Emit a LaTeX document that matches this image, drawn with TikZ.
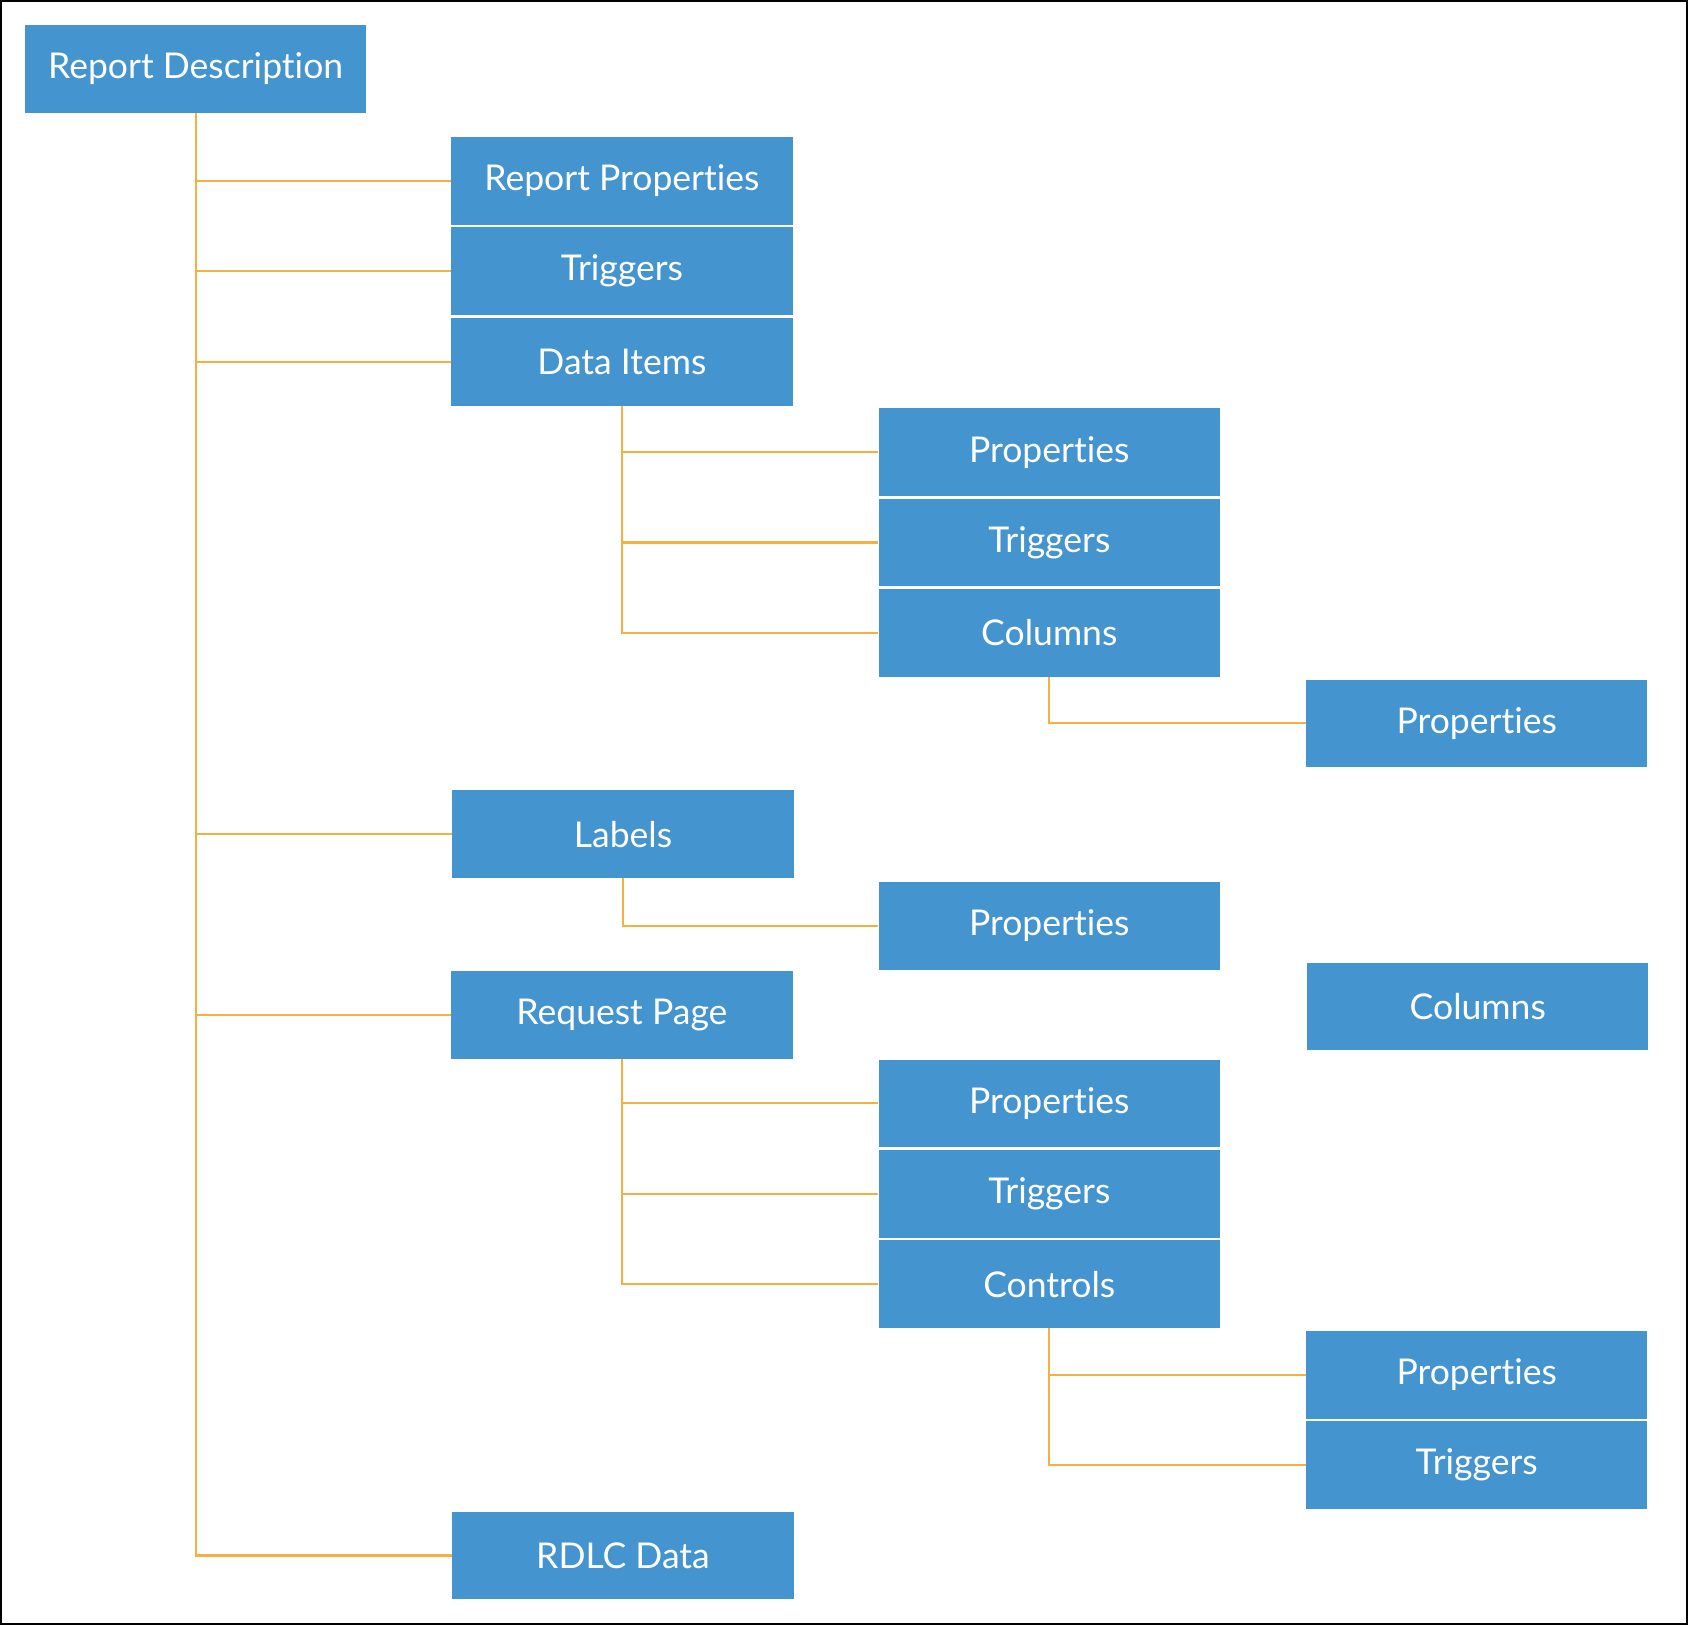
\documentclass[tikz,border=0pt]{standalone}
\usepackage{fontspec}
\setmainfont{Lato}[Ligatures=NoCommon]
\definecolor{boxblue}{RGB}{68,148,208}
\definecolor{lineorange}{RGB}{245,176,65}
\begin{document}
\begin{tikzpicture}[x=1pt,y=-1pt,
  box/.style={fill=boxblue, draw=none, minimum width=317pt, minimum height=81.5pt,
    inner sep=0pt, text=white, font=\fontsize{33}{38}\selectfont, anchor=north west},
  conn/.style={draw=lineorange, line width=2pt}]
\useasboundingbox (0,0) rectangle (1568,1509);
\draw[black, line width=1.5pt] (0.75,0.75) rectangle (1567.25,1508.25);
% level 0
\node[box] (rd) at (23,23) {Report Description};
% level 1
\node[box] (rp)  at (419,127) {Report Properties};
\node[box] (tr1) at (419,211) {Triggers};
\node[box] (di)  at (419,295) {Data Items};
\node[box] (lab) at (420,734) {Labels};
\node[box] (req) at (419,902) {Request Page};
\node[box] (rdlc) at (420,1404) {RDLC Data};
% data items children
\node[box] (dip) at (816,379) {Properties};
\node[box] (dit) at (816,463) {Triggers};
\node[box] (dic) at (816,547) {Columns};
\node[box] (dicp) at (1213,631) {Properties};
% labels child
\node[box] (labp) at (816,819) {Properties};
% orphan columns
\node[box] (col2) at (1214,894) {Columns};
% request page children
\node[box] (rqp) at (816,984) {Properties};
\node[box] (rqt) at (816,1068) {Triggers};
\node[box] (rqc) at (816,1152) {Controls};
\node[box] (rqcp) at (1213,1236) {Properties};
\node[box] (rqct) at (1213,1320) {Triggers};
% connectors
\draw[conn] (rd.south) -- (rd.south |- rdlc.west) -- (rdlc.west);
\foreach \n in {rp,tr1,di,lab,req} \draw[conn] (rd.south |- \n.west) -- (\n.west);
\draw[conn] (di.south) -- (di.south |- dic.west) -- (dic.west);
\foreach \n in {dip,dit} \draw[conn] (di.south |- \n.west) -- (\n.west);
\draw[conn] (dic.south) |- (dicp.west);
\draw[conn] (lab.south) |- (labp.west);
\draw[conn] (req.south) -- (req.south |- rqc.west) -- (rqc.west);
\foreach \n in {rqp,rqt} \draw[conn] (req.south |- \n.west) -- (\n.west);
\draw[conn] (rqc.south) -- (rqc.south |- rqct.west) -- (rqct.west);
\draw[conn] (rqc.south |- rqcp.west) -- (rqcp.west);
\end{tikzpicture}
\end{document}
